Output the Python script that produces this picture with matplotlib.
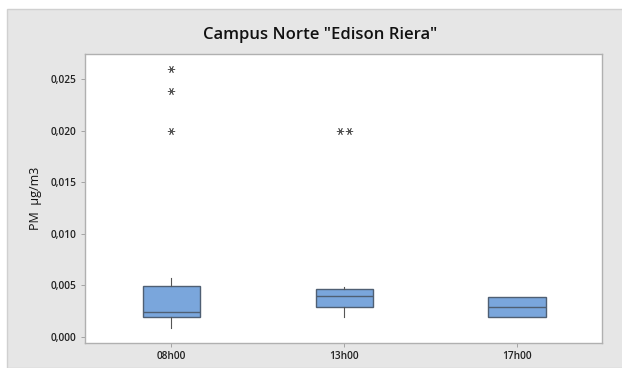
import matplotlib
matplotlib.use("Agg")
import matplotlib.pyplot as plt
from matplotlib.patches import Rectangle
from matplotlib.ticker import FuncFormatter

plt.rcParams['font.family'] = ['Open Sans', 'DejaVu Sans']

# Box summaries per sampling hour (PM, µg/m3)
categories = ["08h00", "13h00", "17h00"]
q1 = [0.00188, 0.00291, 0.00188]
medians = [0.00237, 0.00392, 0.00291]
q3 = [0.00495, 0.00463, 0.00388]
whisker_low = [0.00087, 0.00188, 0.00188]
whisker_high = [0.00567, 0.00485, 0.00388]
outliers = [[0.0260, 0.0239, 0.0200], [0.0200, 0.0200], []]
yticks = [0.000, 0.005, 0.010, 0.015, 0.020, 0.025]

fig = plt.figure(figsize=(6.22, 3.68), dpi=100)
fig.patch.set_facecolor("white")
# grey panel behind the chart
fig.patches.append(Rectangle((7 / 622, 0), 1, 1 - 9 / 368, transform=fig.transFigure,
                             facecolor="#e6e6e6", edgecolor="#d0d0d0", linewidth=1.0,
                             zorder=-10))

ax = fig.add_axes([85 / 622, 1 - 343 / 368, (602 - 85) / 622, (343 - 54) / 368])
ax.set_facecolor("white")

stats = []
for i, name in enumerate(categories):
    stats.append(dict(label=name, med=medians[i], q1=q1[i], q3=q3[i],
                      whislo=whisker_low[i], whishi=whisker_high[i], fliers=[]))

positions = [1, 2, 3]
ax.bxp(stats, positions=positions, widths=0.333, patch_artist=True, showcaps=False,
       boxprops=dict(facecolor="#7aa6dc", edgecolor="#4f5f73", linewidth=1.0),
       medianprops=dict(color="#4f5f73", linewidth=1.0),
       whiskerprops=dict(color="#555555", linewidth=0.8),
       flierprops=dict(marker=""))

# outliers, tied values spread side by side
for pos, vals in zip(positions, outliers):
    counts = {}
    for v in vals:
        counts[v] = counts.get(v, 0) + 1
    for v, n in counts.items():
        offs = [(k - (n - 1) / 2) * 0.048 for k in range(n)]
        ax.plot([pos + o for o in offs], [v] * n, linestyle="none", marker=(6, 2, 90),
                markersize=5.2, color="#555555", markeredgewidth=0.6)

ax.set_xlim(0.5, 3.49)
ax.set_ylim(-0.0006, 0.02745)
ax.set_xticks(positions)
ax.set_xticklabels(categories)
ax.set_yticks(yticks)
ax.yaxis.set_major_formatter(FuncFormatter(lambda v, p: f"{v:.3f}".replace(".", ",")))

for lab in ax.get_xticklabels() + ax.get_yticklabels():
    lab.set_fontsize(7.3)
    lab.set_fontweight("semibold")
    lab.set_color("#222222")
ax.tick_params(axis="both", length=3, width=0.6, color="#999999", pad=3)

for s in ax.spines.values():
    s.set_color("#b0b0b0")
    s.set_linewidth(1.0)

ax.set_ylabel("PM  µg/m3", fontsize=9, color="#111111", labelpad=6)
fig.text(320 / 622, 1 - 35 / 368, 'Campus Norte "Edison Riera"', ha="center", va="center",
         fontsize=12, fontweight="semibold", color="#111111")

fig.savefig("out.png", dpi=100, facecolor=fig.get_facecolor())
